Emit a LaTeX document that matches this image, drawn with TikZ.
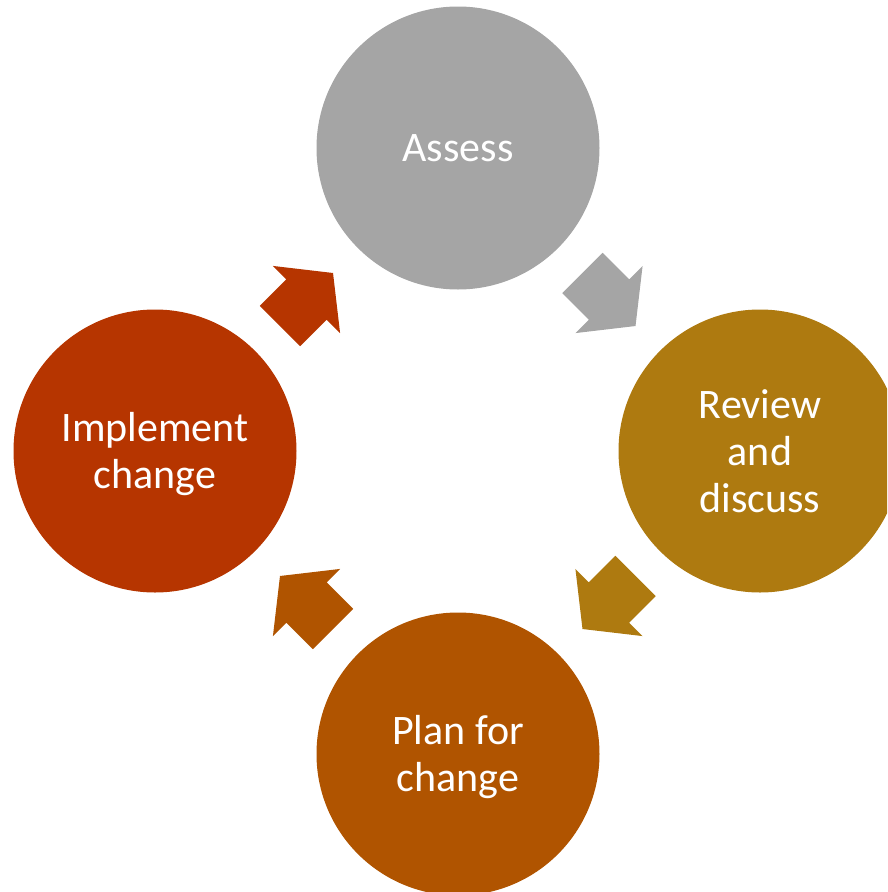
\documentclass[tikz,border=0pt]{standalone}
\usepackage{fontspec}
\setmainfont{Carlito}
\usetikzlibrary{calc}
\definecolor{assessgray}{HTML}{A5A5A5}
\definecolor{reviewgold}{HTML}{AE7A10}
\definecolor{planbrown}{HTML}{B05400}
\definecolor{implred}{HTML}{B63500}

\begin{document}
\begin{tikzpicture}[x=1pt,y=1pt,
    stage/.style={circle, minimum size=283pt, inner sep=0pt, text=white, align=center,
        font=\fontsize{42}{47}\selectfont}]
    \clip (0,0) rectangle (887,-892);
    \node [stage, fill=assessgray] (A) at (458,-148) {Assess};
    \node [stage, fill=reviewgold] (R) at (760,-451) {Review\\and\\discuss};
    \node [stage, fill=planbrown, text depth=2pt] (P) at (458,-754) {Plan for\\change};
    \node [stage, fill=implred, text depth=2pt] (I) at (155,-451) {Implement\\change};
    \foreach \from/\to/\ang/\col in {A/R/-45/assessgray, R/P/-135/reviewgold, P/I/135/planbrown, I/A/45/implred}
        \fill[\col, shift={($(\from)!0.5!(\to)$)}, rotate=\ang]
            (-37.5,-28.5) -- (0,-28.5) -- (0,-47.5) -- (37.5,0) -- (0,47.5) -- (0,28.5) -- (-37.5,28.5) -- cycle;
\end{tikzpicture}
\end{document}
